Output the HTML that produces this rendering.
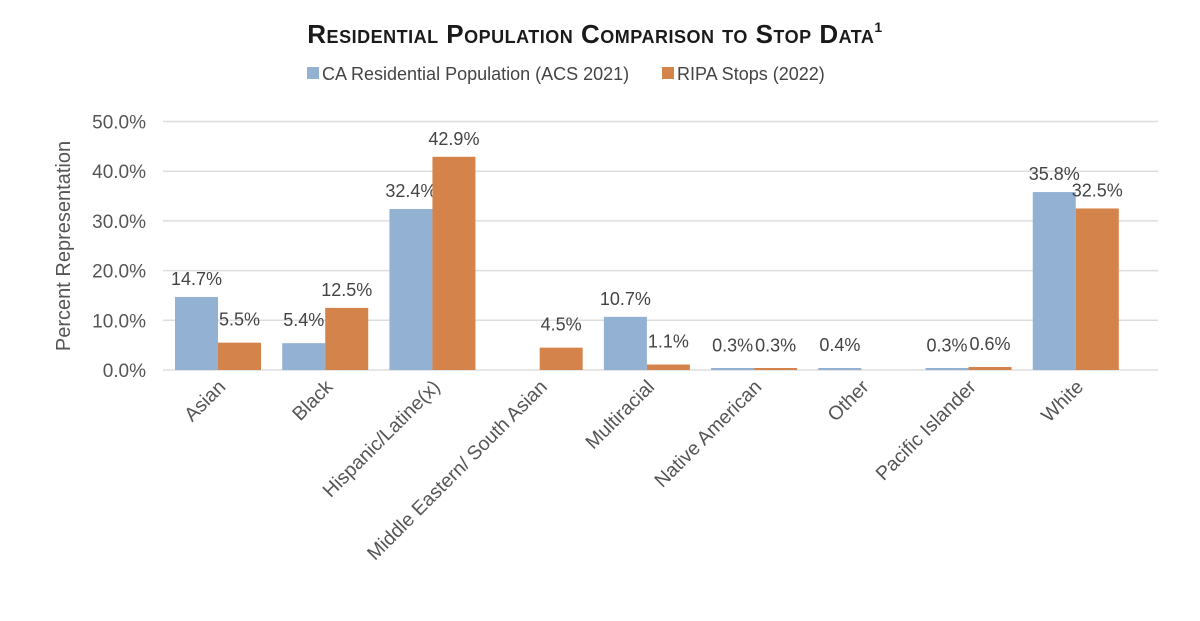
<!DOCTYPE html>
<html><head><meta charset="utf-8"><style>
body{margin:0;background:#fff;width:1200px;height:616px;overflow:hidden}
svg{font-family:"Liberation Sans",sans-serif}
</style></head><body>
<svg id="c" width="1200" height="616">
<text x="595" y="43" text-anchor="middle" font-family="Liberation Sans,sans-serif" font-weight="bold" font-size="26" fill="#1a1a1a" style="font-variant:small-caps;letter-spacing:0.5px">Residential Population Comparison to Stop Data<tspan font-size="14" dy="-11">1</tspan></text>
<g>
<rect x="307" y="67" width="12" height="12" fill="#92b1d3"/>
<text x="322" y="80" font-size="18" fill="#444">CA Residential Population (ACS 2021)</text>
<rect x="662" y="67" width="12" height="12" fill="#d4834b"/>
<text x="677" y="80" font-size="18" fill="#444">RIPA Stops (2022)</text>
</g>
<text transform="translate(70,246) rotate(-90)" text-anchor="middle" font-size="20" fill="#555">Percent Representation</text>
<g id="grid"></g><g id="bars"></g>
</svg>
<script>
const categories=["Asian","Black","Hispanic/Latine(x)","Middle Eastern/ South Asian","Multiracial","Native American","Other","Pacific Islander","White"];
const acs=[14.7,5.4,32.4,null,10.7,0.3,0.4,0.3,35.8];
const ripa=[5.5,12.5,42.9,4.5,1.1,0.3,null,0.6,32.5];
const ticks=[0,10,20,30,40,50];
const NS="http://www.w3.org/2000/svg";
const x0=163,x1=1128,yTop=121.5,yBot=370,max=50;
const bw=(x1-x0)/categories.length;
const y=v=>yBot-(v/max)*(yBot-yTop);
const g=document.getElementById('grid'),b=document.getElementById('bars');
function mk(tag,attrs,parent){const e=document.createElementNS(NS,tag);for(const k in attrs)e.setAttribute(k,attrs[k]);parent.appendChild(e);return e;}
ticks.forEach(t=>{
 const l=mk('line',{x1:x0,x2:x1+30,y1:y(t),y2:y(t),stroke:'#ddd','stroke-width':1.5},g);
 
 
 const tx=mk('text',{x:146,y:y(t)+7,'text-anchor':'end','font-size':19,fill:'#555'},g);
 tx.textContent=t.toFixed(1)+'%';
 
 
});
categories.forEach((c,i)=>{
 const cx=x0+i*bw;
 [[acs[i],'#92b1d3',12,'acs'],[ripa[i],'#d4834b',55,'ripa']].forEach(([v,col,off,nm])=>{
  if(v==null)return;
  const h=Math.max(yBot-y(v),2);
  const r=mk('rect',{x:cx+off,y:yBot-h,width:43,height:h,fill:col},b);
  
  
  const t=mk('text',{x:cx+off+21.5,y:y(v)-(v<8?17:12),'text-anchor':'middle','font-size':18,fill:'#444'},b);
  t.textContent=v.toFixed(1)+'%';
  
  
 });
 const lx=cx+bw/2+10,ly=388;
 const t=mk('text',{x:lx,y:ly,'text-anchor':'end','font-size':19.5,fill:'#555',transform:`rotate(-45 ${lx} ${ly})`},b);
 t.textContent=c;
 
 
});
</script>
</body></html>
